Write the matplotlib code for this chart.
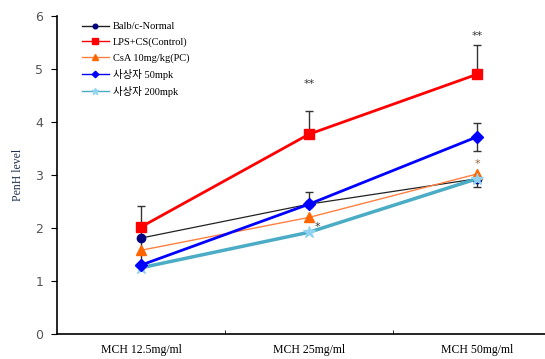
import matplotlib
matplotlib.use("Agg")
from matplotlib import pyplot as plt

categories = ["MCH 12.5mg/ml", "MCH 25mg/ml", "MCH 50mg/ml"]

normal = [1.81, 2.45, 2.93]
lps = [2.02, 3.77, 4.90]
csa = [1.58, 2.20, 3.02]
ssj50 = [1.30, 2.45, 3.72]
ssj200 = [1.25, 1.92, 2.93]

lps_err_up = [0.40, 0.44, 0.55]
lps_err_dn = [0.75, 0.0, 0.0]
normal_err_up = [0.0, 0.23, 0.0]
normal_err_dn = [0.0, 0.0, 0.16]
ssj50_err = [0.0, 0.0, 0.26]

fams = ["Liberation Serif", "Noto Sans CJK KR"]

fig = plt.figure(figsize=(5.45, 3.59), dpi=100)
ax = fig.add_axes([0.1046, 0.0696, 0.9248, 0.8858])

x = [0, 1, 2]

ax.errorbar(x, lps, yerr=[lps_err_dn, lps_err_up], fmt="none", ecolor="#333333",
            elinewidth=1, capsize=3, zorder=2)
ax.errorbar(x, normal, yerr=[normal_err_dn, normal_err_up], fmt="none", ecolor="#333333",
            elinewidth=1, capsize=3, zorder=2)
ax.errorbar(x, ssj50, yerr=ssj50_err, fmt="none", ecolor="#333333",
            elinewidth=1, capsize=3, zorder=2)

ax.plot(x, normal, color="#222222", lw=0.9, marker="o", ms=6,
        mfc="#000080", mec="#000080", label="Balb/c-Normal", zorder=3)
ax.plot(x, lps, color="#FF0000", lw=2, marker="s", ms=7,
        mfc="#FF0000", mec="#FF0000", label="LPS+CS(Control)", zorder=4)
ax.plot(x, csa, color="#FF8040", lw=1, marker="^", ms=7,
        mfc="#FF6600", mec="#FF6600", label="CsA 10mg/kg(PC)", zorder=3)
ax.plot(x, ssj50, color="#0000FF", lw=2, marker="D", ms=6,
        mfc="#0000FF", mec="#0000FF", label="사상자 50mpk", zorder=4)
ax.plot(x, ssj200, color="#4BACC6", lw=2.5, marker="*", ms=9,
        mfc="#8FD3F0", mec="#8FD3F0", label="사상자 200mpk", zorder=3)

# significance marks
ax.text(1, 4.72, "**", ha="center", va="center", fontsize=8, color="#333333")
ax.text(2, 5.62, "**", ha="center", va="center", fontsize=8, color="#333333")
ax.text(1.05, 2.02, "*", ha="center", va="center", fontsize=8, color="#333333")
ax.text(2.0, 3.2, "*", ha="center", va="center", fontsize=8, color="#996633")

ax.set_xlim(-0.5, 2.5)
ax.set_ylim(0, 6)
ax.set_yticks(range(7))
ax.tick_params(axis="y", direction="out", length=4, labelsize=9,
               labelcolor="#555555", pad=6)
ax.set_xticks(x)
ax.set_xticklabels(categories, fontsize=8.5, family=fams)
ax.set_xticks([0.5, 1.5], minor=True)
ax.tick_params(axis="x", which="major", length=0, pad=7)
ax.tick_params(axis="x", which="minor", direction="in", length=3)

ax.spines["top"].set_visible(False)
ax.spines["right"].set_visible(False)
ax.spines["left"].set_linewidth(1.2)
ax.spines["bottom"].set_linewidth(1.2)

ax.set_ylabel("PenH level", fontsize=8.5, family=fams, color="#1F3050", labelpad=8)

leg = ax.legend(loc="upper left", bbox_to_anchor=(0.03, 1.01), frameon=False,
                prop={"family": fams, "size": 7.5},
                handlelength=2.6, handletextpad=0.4, labelspacing=0.58,
                markerscale=0.55)
for ln in leg.get_lines():
    ln.set_linewidth(1)

fig.savefig("out.png", dpi=100)
